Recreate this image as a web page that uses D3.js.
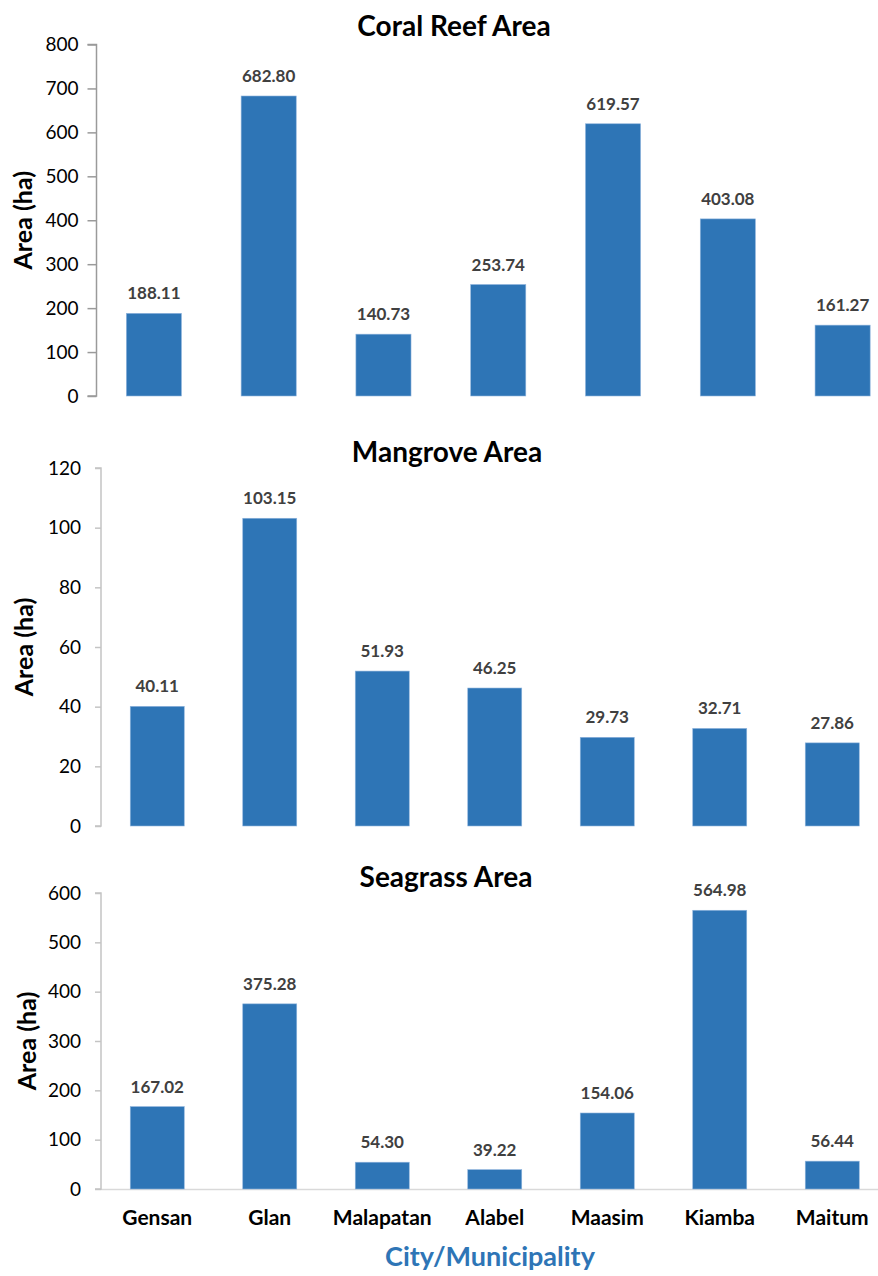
<!DOCTYPE html>
<html>
<head>
<meta charset="utf-8">
<script src="https://cdn.jsdelivr.net/npm/d3@7"></script>
<style>
  html, body { margin: 0; padding: 0; background: #ffffff; }
  svg { display: block; }
  text { font-family: Lato, "Open Sans", "DejaVu Sans", sans-serif; }
</style>
</head>
<body>
<svg id="chart" width="878" height="1276"></svg>
<script>
// Coastal habitat areas (hectares) by city / municipality
const categories = ["Gensan", "Glan", "Malapatan", "Alabel", "Maasim", "Kiamba", "Maitum"];
const coralReefArea = [188.11, 682.80, 140.73, 253.74, 619.57, 403.08, 161.27];
const mangroveArea  = [40.11, 103.15, 51.93, 46.25, 29.73, 32.71, 27.86];
const seagrassArea  = [167.02, 375.28, 54.30, 39.22, 154.06, 564.98, 56.44];
const coralTicks    = [0, 100, 200, 300, 400, 500, 600, 700, 800];
const mangroveTicks = [0, 20, 40, 60, 80, 100, 120];
const seagrassTicks = [0, 100, 200, 300, 400, 500, 600];

const svg = d3.select("#chart");
const barColor = "#2e75b6";
const fmt = d3.format(".2f");

const panels = [
  { title: "Coral Reef Area", values: coralReefArea, ticks: coralTicks,
    top: 44.5, bottom: 396, left: 96.5, right: 900, tickSize: 9, tickPad: 9,
    axisColor: "#9a9a9a", titleX: 454, titleY: 36, ytX: 32, baseline: false },
  { title: "Mangrove Area", values: mangroveArea, ticks: mangroveTicks,
    top: 468, bottom: 826, left: 101, right: 888.5, tickSize: 6, tickPad: 14,
    axisColor: "#c4c4c4", titleX: 447, titleY: 462, ytX: 33, baseline: false },
  { title: "Seagrass Area", values: seagrassArea, ticks: seagrassTicks,
    top: 893, bottom: 1189, left: 101, right: 888.5, tickSize: 6, tickPad: 14,
    axisColor: "#c4c4c4", titleX: 446, titleY: 887, ytX: 36, baseline: true }
];

panels.forEach((p, pi) => {
  const g = svg.append("g");
  const x = d3.scaleBand().domain(categories).range([p.left, p.right])
    .paddingInner(0.52).paddingOuter(0.26);
  const y = d3.scaleLinear().domain([0, d3.max(p.ticks)]).range([p.bottom, p.top]);

  // horizontal category baseline (bottom panel only)
  if (p.baseline) {
    g.append("line")
      .attr("x1", p.left).attr("x2", 878)
      .attr("y1", p.bottom + 0.5).attr("y2", p.bottom + 0.5)
      .attr("stroke", "#d9d9d9").attr("stroke-width", 1.5);
  }

  // value axis
  const yAxis = d3.axisLeft(y).tickValues(p.ticks).tickSize(p.tickSize)
    .tickPadding(p.tickPad).tickFormat(d3.format("d"));
  const ag = g.append("g").attr("transform", `translate(${p.left},0)`).call(yAxis);
  ag.select(".domain").attr("stroke", p.axisColor).attr("stroke-width", 1.5)
    .attr("d", `M${-p.tickSize},${p.top}H0V${p.bottom}H${-p.tickSize}`);
  ag.selectAll(".tick line").attr("stroke", p.axisColor).attr("stroke-width", 1.5);
  ag.selectAll(".tick text").attr("fill", "#000").attr("font-size", 19)
    .style("font-family", "Lato, sans-serif");

  // bars
  g.selectAll("rect.bar").data(p.values).join("rect")
    .attr("class", "bar")
    .attr("x", (d, i) => x(categories[i]))
    .attr("width", x.bandwidth())
    .attr("y", d => y(d))
    .attr("height", d => y(0) - y(d))
    .attr("fill", barColor)
    .attr("stroke", "#8fb4dc").attr("stroke-width", 0.6);

  // value labels
  g.selectAll("text.val").data(p.values).join("text")
    .attr("class", "val")
    .attr("x", (d, i) => x(categories[i]) + x.bandwidth() / 2)
    .attr("y", d => y(d) - 14)
    .attr("text-anchor", "middle")
    .attr("font-size", 17).attr("font-weight", 700).attr("fill", "#404040")
    .text(d => fmt(d));

  // panel title
  g.append("text")
    .attr("x", p.titleX).attr("y", p.titleY)
    .attr("text-anchor", "middle")
    .attr("font-size", 28).attr("font-weight", 700).attr("fill", "#000")
    .text(p.title);

  // y-axis title
  g.append("text")
    .attr("transform", `translate(${p.ytX},${(p.top + p.bottom) / 2}) rotate(-90)`)
    .attr("text-anchor", "middle")
    .attr("font-size", 25).attr("font-weight", 700).attr("fill", "#000")
    .text("Area (ha)");

  // category labels under the last panel
  if (pi === panels.length - 1) {
    g.selectAll("text.cat").data(categories).join("text")
      .attr("class", "cat")
      .attr("x", d => x(d) + x.bandwidth() / 2)
      .attr("y", 1225)
      .attr("text-anchor", "middle")
      .attr("font-size", 21).attr("font-weight", 700).attr("fill", "#000")
      .text(d => d);
  }
});

// x-axis title
svg.append("text")
  .attr("x", 490).attr("y", 1266)
  .attr("text-anchor", "middle")
  .attr("font-size", 27).attr("font-weight", 700).attr("fill", "#2e75b6")
  .text("City/Municipality");
</script>
</body>
</html>
